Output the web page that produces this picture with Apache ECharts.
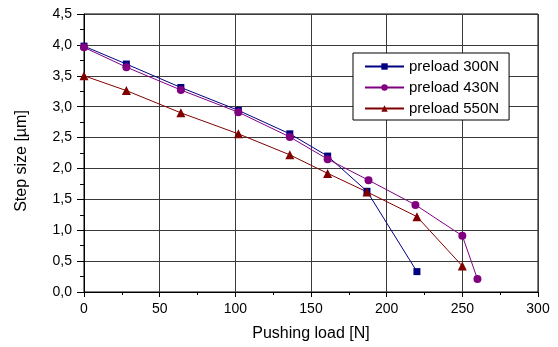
<!DOCTYPE html>
<html><head><meta charset="utf-8">
<script src="https://cdn.jsdelivr.net/npm/echarts@6/dist/echarts.min.js"></script>
<style>html,body{margin:0;padding:0;background:#fff}#c{width:558px;height:347px}</style>
</head><body><div id="c"></div>
<script>
const seriesNames = ['preload 300N', 'preload 430N', 'preload 550N'];
const load300 = [0, 28, 64, 102, 136, 161, 187, 220];
const step300 = [3.98, 3.69, 3.31, 2.94, 2.56, 2.20, 1.63, 0.33];
const load430 = [0, 28, 64, 102, 136, 161, 188, 219, 250, 260];
const step430 = [3.96, 3.64, 3.27, 2.91, 2.51, 2.15, 1.81, 1.41, 0.91, 0.21];
const load550 = [0, 28, 64, 102, 136, 161, 187, 220, 250];
const step550 = [3.50, 3.26, 2.90, 2.56, 2.22, 1.92, 1.62, 1.22, 0.42];

const pairs = (xs, ys) => xs.map((x, i) => [x, ys[i]]);
const font = 'Liberation Sans, Arial, sans-serif';
const chart = echarts.init(document.getElementById('c'), null, {renderer: 'canvas'});
const mk = (name, data, color, symbol, size) => ({
  name, type: 'line', data, symbol, symbolSize: size,
  lineStyle: {color, width: 1}, itemStyle: {color}, animation: false
});
chart.setOption({
  animation: false,
  textStyle: {fontFamily: font},
  grid: {left: 84, right: 20, top: 14, bottom: 55, show: true, borderColor: '#000', borderWidth: 1},
  legend: {
    left: 353, top: 53, orient: 'vertical', itemWidth: 39, itemHeight: 8, itemGap: 6,
    padding: [6, 10, 4, 11], borderColor: '#000', borderWidth: 1, backgroundColor: '#fff',
    textStyle: {fontFamily: font, fontSize: 15, color: '#000'},
    data: seriesNames
  },
  xAxis: {
    type: 'value', min: 0, max: 300, interval: 50,
    name: 'Pushing load [N]', nameLocation: 'middle', nameGap: 34,
    nameTextStyle: {fontFamily: font, fontSize: 16, color: '#000'},
    axisLine: {lineStyle: {color: '#000', width: 1}},
    axisTick: {show: true, inside: false, length: 5, lineStyle: {color: '#000'}},
    minorTick: {show: true, splitNumber: 2, length: 3, lineStyle: {color: '#000'}},
    axisLabel: {margin: 10, fontFamily: font, fontSize: 14, color: '#000'},
    splitLine: {show: true, lineStyle: {color: '#3a3a3a', width: 1}}
  },
  yAxis: {
    type: 'value', min: 0, max: 4.5, interval: 0.5,
    name: 'Step size [µm]', nameLocation: 'middle', nameGap: 54, nameRotate: 90,
    nameTextStyle: {fontFamily: font, fontSize: 16, color: '#000', padding: [0, 16, 0, 0]},
    axisLine: {show: true, lineStyle: {color: '#000', width: 1}},
    axisTick: {show: true, inside: false, length: 7, lineStyle: {color: '#000'}},
    minorTick: {show: true, splitNumber: 2, length: 4, lineStyle: {color: '#000'}},
    axisLabel: {margin: 12, fontFamily: font, fontSize: 14, color: '#000',
      formatter: v => v.toFixed(1).replace('.', ',')},
    splitLine: {show: true, lineStyle: {color: '#3a3a3a', width: 1}}
  },
  series: [
    mk(seriesNames[0], pairs(load300, step300), '#000080', 'rect', 7),
    mk(seriesNames[1], pairs(load430, step430), '#800080', 'circle', 8),
    mk(seriesNames[2], pairs(load550, step550), '#800000', 'triangle', 9)
  ]
});
</script></body></html>
